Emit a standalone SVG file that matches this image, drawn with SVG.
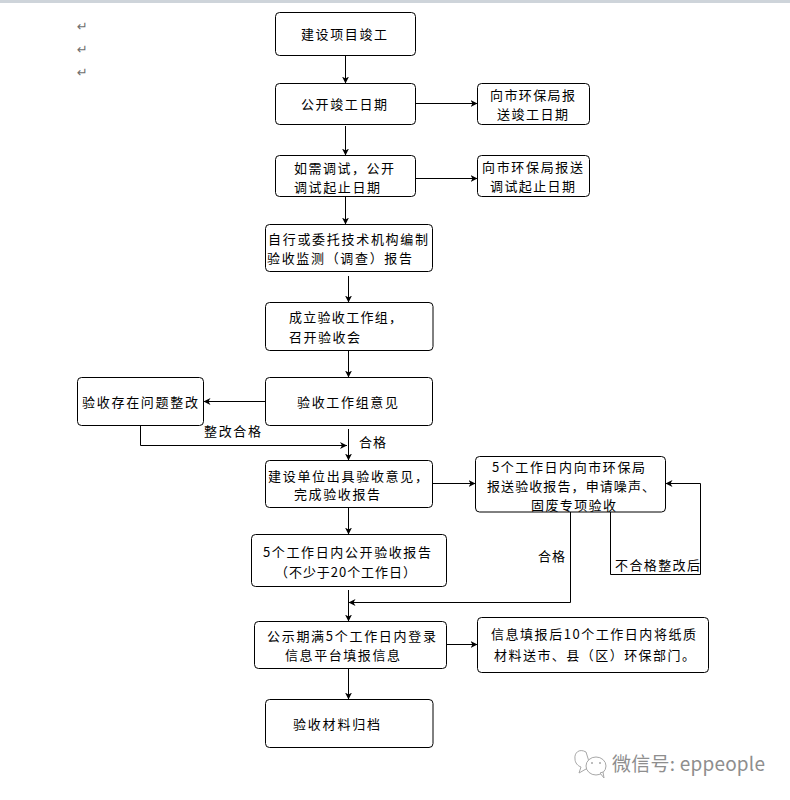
<svg xmlns="http://www.w3.org/2000/svg" width="790" height="800" viewBox="0 0 790 800">
  <style>
    .box { fill: #fff; stroke: #000; stroke-width: 1; }
    .link { fill: none; stroke: #000; stroke-width: 1; }
    text { font-family: "Noto Sans CJK SC", "Liberation Sans", sans-serif; font-size: 13px; fill: #000; }
    .mark { font-family: "DejaVu Sans", sans-serif; font-size: 13px; fill: #6e6e6e; }
    .wm { font-size: 19px; fill: #8e8e8e; }
    .wm-line { fill: #fff; stroke: #a8a8a8; stroke-width: 1; }
  </style>
  <defs>
    <marker id="arrow" markerWidth="8" markerHeight="8" refX="7" refY="4" orient="auto" markerUnits="userSpaceOnUse">
      <path d="M0,0.5 L7,4 L0,7.5 L2,4 Z" fill="#000"/>
    </marker>
  </defs>
  <rect width="790" height="800" fill="#fff"/>
  <rect width="790" height="3" fill="#ced4da"/>

  <g id="paragraph-marks">
    <text class="mark" x="77" y="31">↵</text>
    <text class="mark" x="77" y="54">↵</text>
    <text class="mark" x="77" y="77">↵</text>
  </g>

  <g id="connectors">
    <path class="link" marker-end="url(#arrow)" d="M345.5,55.5V83.5"/>
    <path class="link" marker-end="url(#arrow)" d="M345.5,126V155.5"/>
    <path class="link" marker-end="url(#arrow)" d="M345.5,196.5V224.5"/>
    <path class="link" marker-end="url(#arrow)" d="M348.5,276V302.5"/>
    <path class="link" marker-end="url(#arrow)" d="M348.5,350.5V377.5"/>
    <path class="link" marker-end="url(#arrow)" d="M415.5,103.5H477.5"/>
    <path class="link" marker-end="url(#arrow)" d="M415.5,178.5H477.5"/>
    <path class="link" marker-end="url(#arrow)" d="M265.5,401.5H203.5"/>
    <path class="link" marker-end="url(#arrow)" d="M140.5,425.5V445.5H347"/>
    <path class="link" marker-end="url(#arrow)" d="M348.5,429V460.5"/>
    <path class="link" marker-end="url(#arrow)" d="M432.5,483.5H475.5"/>
    <path class="link" marker-end="url(#arrow)" d="M348.5,507.5V534.5"/>
    <path class="link" marker-end="url(#arrow)" d="M348.5,590V621.5"/>
    <path class="link" marker-end="url(#arrow)" d="M570.5,512V602.5H348.5"/>
    <path class="link" marker-end="url(#arrow)" d="M610.5,512V574.5H700.5V483.5H665.5"/>
    <path class="link" marker-end="url(#arrow)" d="M446.5,644.5H477.5"/>
    <path class="link" marker-end="url(#arrow)" d="M348.5,668.5V699.5"/>
  </g>

  <g id="node-completion">
    <rect class="box" x="275.5" y="12.5" width="140" height="43" rx="4"/>
    <text x="301" y="39" textLength="86">建设项目竣工</text>
  </g>
  <g id="node-publish-date">
    <rect class="box" x="275.5" y="83.5" width="140" height="41" rx="4"/>
    <text x="301" y="109" textLength="86">公开竣工日期</text>
  </g>
  <g id="node-report-date">
    <rect class="box" x="477.5" y="83.5" width="112" height="41" rx="4"/>
    <text x="490" y="100" textLength="85">向市环保局报</text>
    <text x="497" y="119" textLength="71">送竣工日期</text>
  </g>
  <g id="node-debug">
    <rect class="box" x="275.5" y="155.5" width="140" height="41" rx="4"/>
    <text x="294" y="173" textLength="100">如需调试，公开</text>
    <text x="294" y="192" textLength="86">调试起止日期</text>
  </g>
  <g id="node-report-debug">
    <rect class="box" x="477.5" y="155.5" width="112" height="41" rx="4"/>
    <text x="482" y="172" textLength="101">向市环保局报送</text>
    <text x="490" y="191" textLength="85">调试起止日期</text>
  </g>
  <g id="node-monitoring">
    <rect class="box" x="265.5" y="224.5" width="167" height="47" rx="4"/>
    <text x="268" y="244" textLength="160">自行或委托技术机构编制</text>
    <text x="267" y="263" textLength="145">验收监测（调查）报告</text>
  </g>
  <g id="node-working-group">
    <rect class="box" x="265.5" y="302.5" width="167.5" height="48" rx="4"/>
    <text x="289" y="322" textLength="113">成立验收工作组，</text>
    <text x="289" y="342" textLength="71">召开验收会</text>
  </g>
  <g id="node-opinion">
    <rect class="box" x="265.5" y="377.5" width="167" height="48" rx="4"/>
    <text x="297" y="407" textLength="101">验收工作组意见</text>
  </g>
  <g id="node-rectify">
    <rect class="box" x="77.5" y="377.5" width="126" height="48" rx="4"/>
    <text x="82" y="407" textLength="116">验收存在问题整改</text>
  </g>
  <g id="node-acceptance">
    <rect class="box" x="265.5" y="460.5" width="167" height="47" rx="4"/>
    <text x="268" y="481" textLength="160">建设单位出具验收意见，</text>
    <text x="294" y="499" textLength="86">完成验收报告</text>
  </g>
  <g id="node-special">
    <rect class="box" x="475.5" y="456.5" width="190" height="55.5" rx="4"/>
    <text x="492" y="472" textLength="153">5个工作日内向市环保局</text>
    <text x="487" y="491" textLength="168">报送验收报告，申请噪声、</text>
    <text x="531" y="510" textLength="85">固废专项验收</text>
  </g>
  <g id="node-publicize">
    <rect class="box" x="251.5" y="534.5" width="195" height="52" rx="4"/>
    <text x="263" y="557" textLength="168">5个工作日内公开验收报告</text>
    <text x="275" y="577" textLength="141">（不少于20个工作日）</text>
  </g>
  <g id="node-platform">
    <rect class="box" x="254.5" y="621.5" width="192" height="47" rx="4"/>
    <text x="267" y="641" textLength="169">公示期满5个工作日内登录</text>
    <text x="285" y="660" textLength="115">信息平台填报信息</text>
  </g>
  <g id="node-paper">
    <rect class="box" x="477.5" y="617.5" width="231" height="55" rx="4"/>
    <text x="491" y="639" textLength="205">信息填报后10个工作日内将纸质</text>
    <text x="494" y="660" textLength="201">材料送市、县（区）环保部门。</text>
  </g>
  <g id="node-archive">
    <rect class="box" x="265.5" y="699.5" width="167.5" height="48" rx="4"/>
    <text x="293" y="729" textLength="87">验收材料归档</text>
  </g>

  <g id="connector-labels">
    <text x="204" y="436" textLength="57">整改合格</text>
    <text x="359" y="447" textLength="27">合格</text>
    <text x="538" y="561" textLength="27">合格</text>
    <text x="615" y="570" textLength="85">不合格整改后</text>
  </g>

  <g id="account-tag">
    <path class="wm-line" d="M586,752 C579,748 574,753 575,759 C575,763 578,766 581,767 L579,773 L586,769 C588,769 590,769 591,768 Z"/>
    <ellipse class="wm-line" cx="596" cy="766" rx="10" ry="9"/>
    <path class="wm-line" d="M600,773 L604,778 L603,772 Z"/>
    <circle cx="592" cy="763" r="1" fill="#a8a8a8"/>
    <circle cx="600" cy="763" r="1" fill="#a8a8a8"/>
    <text class="wm" x="612" y="771" textLength="153">微信号: eppeople</text>
  </g>
</svg>
